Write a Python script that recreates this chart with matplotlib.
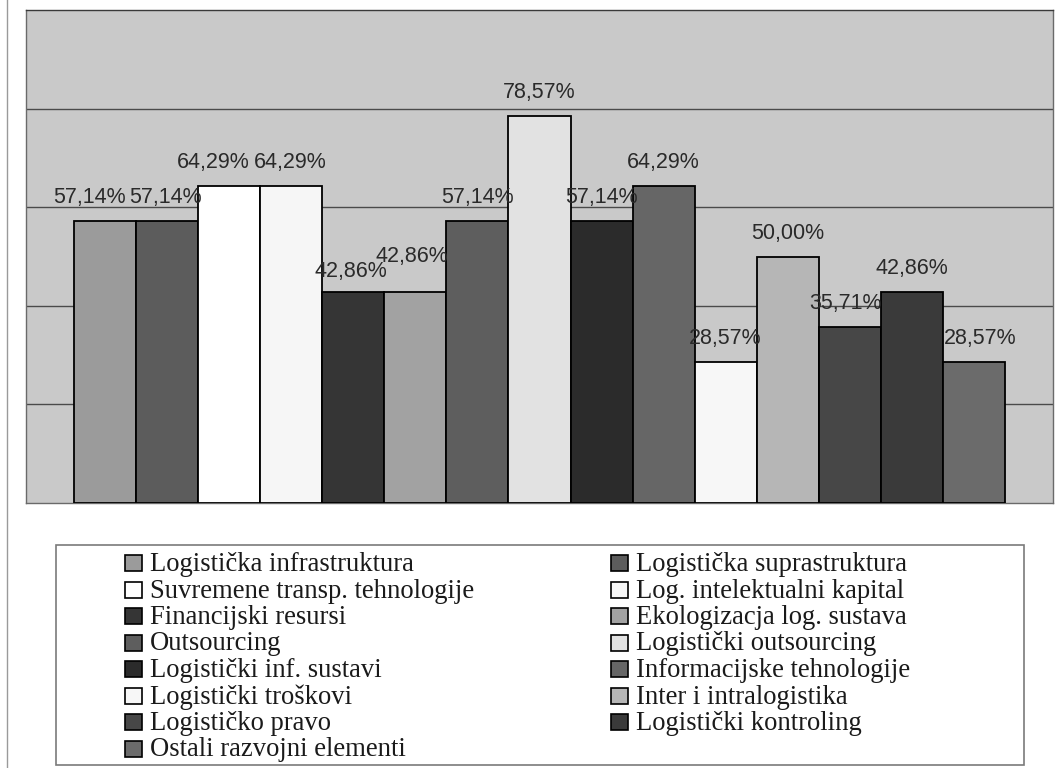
import matplotlib.pyplot as plt
from matplotlib.patches import Rectangle
from matplotlib.lines import Line2D

# Share of respondents per development element (%)
elements = [
    "Logistička infrastruktura", "Logistička suprastruktura",
    "Suvremene transp. tehnologije", "Log. intelektualni kapital",
    "Financijski resursi", "Ekologizacja log. sustava",
    "Outsourcing", "Logistički outsourcing",
    "Logistički inf. sustavi", "Informacijske tehnologije",
    "Logistički troškovi", "Inter i intralogistika",
    "Logističko pravo", "Logistički kontroling",
    "Ostali razvojni elementi",
]
shares = [57.14, 57.14, 64.29, 64.29, 42.86, 42.86, 57.14, 78.57,
          57.14, 64.29, 28.57, 50.00, 35.71, 42.86, 28.57]
grays = ["#9b9b9b", "#5c5c5c", "#ffffff", "#f6f6f6", "#353535", "#a2a2a2",
         "#5e5e5e", "#e2e2e2", "#2b2b2b", "#666666", "#f7f7f7", "#b6b6b6",
         "#474747", "#3a3a3a", "#6b6b6b"]
# nudges (pixels) for labels that would otherwise collide
label_dx = [-16, -2, -16, -1, -2, -4, 0, 0, 0, 0, 0, 0, -4, 0, 6]
label_dy = [0, 0, 0, 0, -3, 12, 0, 0, 0, 0, 0, 0, 0, 0, 0]

W, H = 1064, 768
PT = 72 / 100  # points per pixel at 100 dpi
fig = plt.figure(figsize=(W / 100, H / 100), dpi=100)
fig.patch.set_facecolor("white")


def px_axes(x0, y0, x1, y1):
    # axes placed by pixel box measured from the top-left corner
    return fig.add_axes([x0 / W, 1 - y1 / H, (x1 - x0) / W, (y1 - y0) / H])


ax = px_axes(26, 10, 1053, 503)
ax.set_facecolor("#c9c9c9")
n = len(shares)
xs = list(range(n))
ax.bar(xs, shares, width=1.0, color=grays, edgecolor="black",
       linewidth=1.3, zorder=3)
ax.set_xlim(-1.274, n - 1 + 1.274)
ax.set_ylim(0, 100)
ax.set_yticks([20, 40, 60, 80])
ax.yaxis.grid(True, color="#4a4a4a", linewidth=1.0, zorder=1)
ax.tick_params(left=False, bottom=False, labelleft=False, labelbottom=False)
for side in ["left", "right", "top", "bottom"]:
    ax.spines[side].set_color("#6a6a6a")
    ax.spines[side].set_linewidth(1.0)
ax.spines["top"].set_color("#3a3a3a")

for x, v, dx, dy in zip(xs, shares, label_dx, label_dy):
    label = f"{v:.2f}%".replace(".", ",")
    ax.annotate(label, (x, v), xytext=(dx * PT, (18 + dy) * PT),
                textcoords="offset points", ha="center", va="baseline",
                fontsize=15.5, family="Liberation Sans", color="#2a2a2a",
                zorder=4)

# legend drawn in a full-figure pixel frame
lg = fig.add_axes([0, 0, 1, 1])
lg.set_xlim(0, W)
lg.set_ylim(H, 0)
lg.axis("off")
lg.add_patch(Rectangle((56, 545), 968, 220, facecolor="white",
                       edgecolor="#7a7a7a", linewidth=1.2))
lg.add_line(Line2D([7, 7], [0, H], color="#9a9a9a", linewidth=1.0))

col_x = [125, 611]
base0, pitch = 571, 26.5
for i, (name, c) in enumerate(zip(elements, grays)):
    col, row = i % 2, i // 2
    yb = base0 + pitch * row
    x0 = col_x[col]
    lg.add_patch(Rectangle((x0, yb - 16), 17, 16, facecolor=c,
                           edgecolor="black", linewidth=1.2))
    lg.text(x0 + 25, yb, name, ha="left", va="baseline", fontsize=19.2,
            family="Liberation Serif", color="#1a1a1a")

fig.savefig("out.png", dpi=100)
